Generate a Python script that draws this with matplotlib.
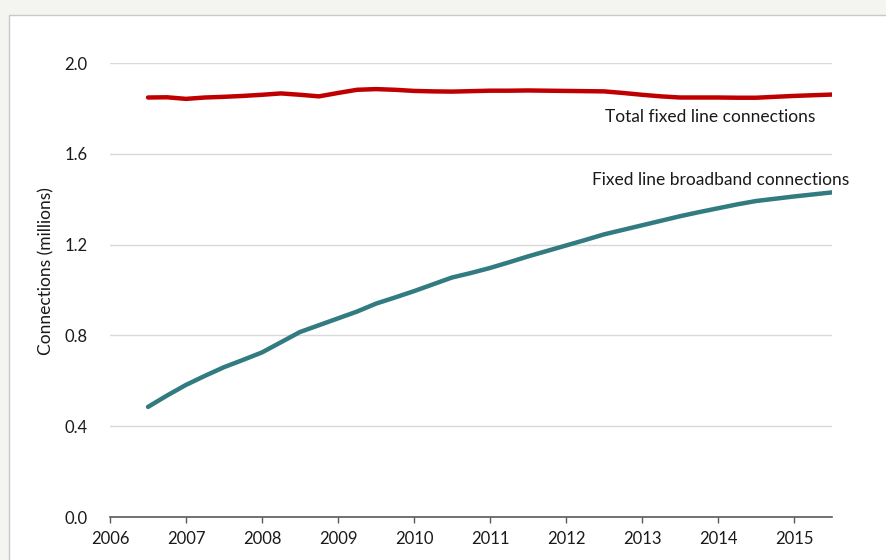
import numpy as np
import matplotlib.pyplot as plt
from matplotlib.patches import Rectangle

# quarterly observations, mid-2006 to mid-2015
years = np.arange(2006.5, 2015.51, 0.25)

total_fixed = [1.848, 1.849, 1.842, 1.848, 1.851, 1.855, 1.860, 1.866,
               1.860, 1.853, 1.868, 1.882, 1.885, 1.882, 1.877, 1.875,
               1.874, 1.876, 1.878, 1.878, 1.879, 1.878, 1.877, 1.876,
               1.875, 1.868, 1.860, 1.853, 1.848, 1.848, 1.848, 1.847,
               1.847, 1.851, 1.855, 1.858, 1.861]

broadband = [0.485, 0.535, 0.582, 0.622, 0.660, 0.692, 0.725, 0.770,
             0.815, 0.845, 0.875, 0.905, 0.940, 0.967, 0.995, 1.025,
             1.055, 1.075, 1.097, 1.122, 1.148, 1.172, 1.196, 1.220,
             1.245, 1.265, 1.285, 1.305, 1.325, 1.343, 1.360, 1.377,
             1.392, 1.402, 1.412, 1.421, 1.430]

xticks = list(range(2006, 2016))
yticks = [0.0, 0.4, 0.8, 1.2, 1.6, 2.0]

plt.rcParams['font.family'] = ['Lato', 'DejaVu Sans']

fig = plt.figure(figsize=(8.86, 5.60), dpi=100)
fig.patch.set_facecolor('#f4f4f1')
panel = Rectangle((9 / 886, -0.1), 1.0, 1 - 15 / 560 + 0.1,
                  transform=fig.transFigure, facecolor='white',
                  edgecolor='#c8c8c8', linewidth=1.0, zorder=-5)
fig.add_artist(panel)

ax = fig.add_axes([110 / 886, 43 / 560, 722 / 886, 454 / 560])
ax.set_zorder(2)
ax.set_facecolor('none')

ax.plot(years, total_fixed, color='#c00000', lw=3.2, solid_capstyle='round')
ax.plot(years, broadband, color='#317b81', lw=3.2, solid_capstyle='round')

ax.text(2013.9, 1.76, 'Total fixed line connections', ha='center', va='center',
        fontsize=12.5, color='#1a1a1a')
ax.text(2014.03, 1.485, 'Fixed line broadband connections', ha='center',
        va='center', fontsize=12.5, color='#1a1a1a')

ax.set_xlim(2006, 2015.5)
ax.set_ylim(0, 2.0)
ax.set_xticks(xticks)
ax.set_yticks(yticks)
ax.set_yticklabels(['%.1f' % v for v in yticks])
ax.grid(True, axis='y', color='#d9d9d9', lw=1.0)
ax.set_axisbelow(True)

for s in ['top', 'right', 'left']:
    ax.spines[s].set_visible(False)
ax.spines['bottom'].set_color('#595959')
ax.spines['bottom'].set_linewidth(1.2)

ax.tick_params(axis='x', length=4, width=1, color='#595959', pad=6,
               labelsize=12, labelcolor='#1a1a1a')
ax.tick_params(axis='y', length=0, pad=16, labelsize=12, labelcolor='#1a1a1a')
ax.set_ylabel('Connections (millions)', fontsize=12.5, color='#1a1a1a')
ax.yaxis.set_label_coords(-0.077, 0.542)

fig.savefig('out.png', dpi=100, facecolor=fig.get_facecolor())
